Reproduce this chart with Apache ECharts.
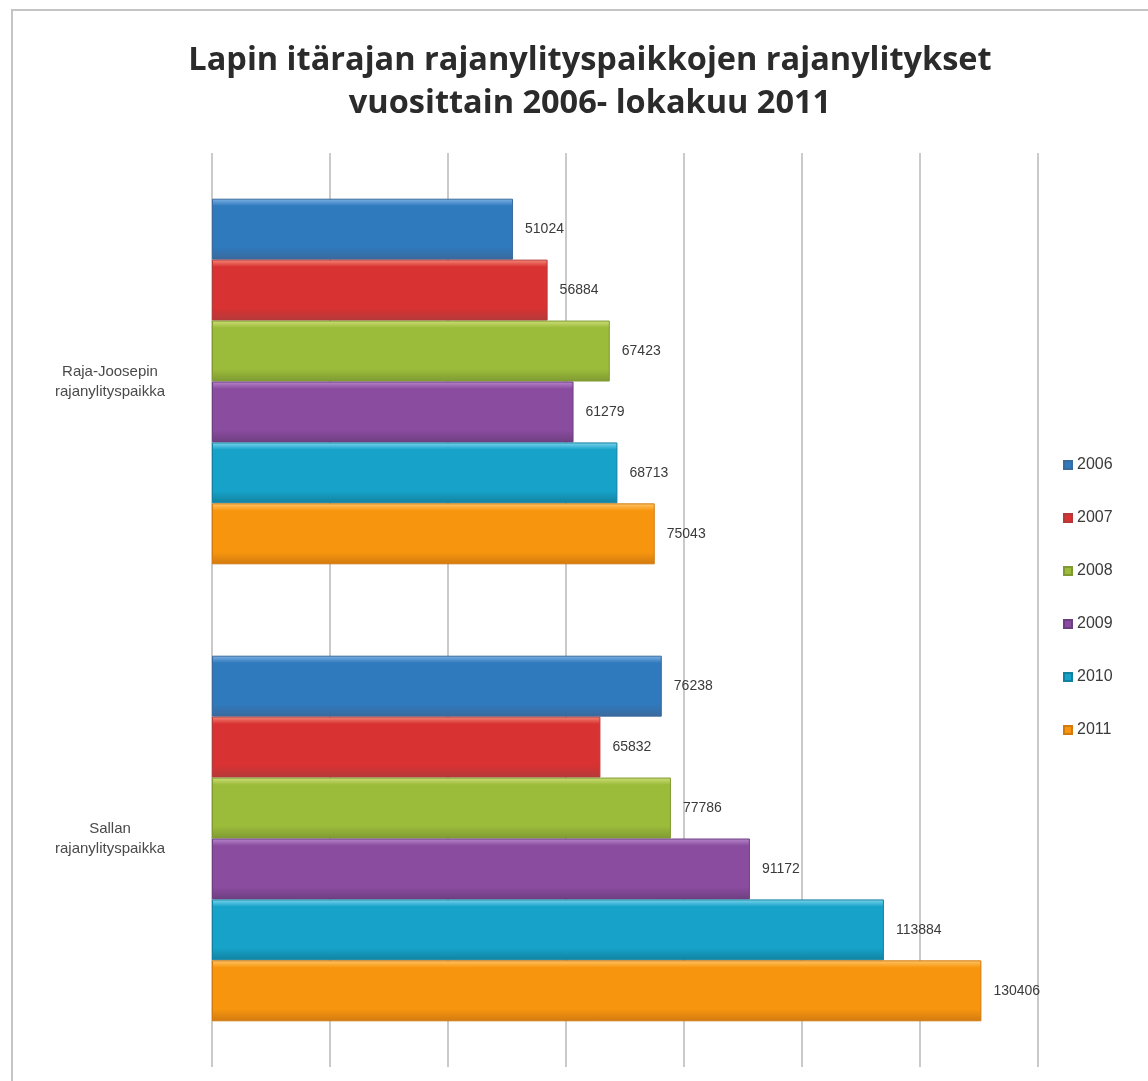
<!DOCTYPE html>
<html>
<head>
<meta charset="utf-8">
<script src="https://cdn.jsdelivr.net/npm/echarts@6/dist/echarts.min.js"></script>
<style>
  html, body { margin: 0; padding: 0; background: #fff; }
  #chart { width: 1148px; height: 1081px; }
</style>
</head>
<body>
<div id="chart"></div>
<script>
const places = ['Raja-Joosepin\nrajanylityspaikka', 'Sallan\nrajanylityspaikka'];
const years = ['2006', '2007', '2008', '2009', '2010', '2011'];
const v2006 = [51024, 76238];
const v2007 = [56884, 65832];
const v2008 = [67423, 77786];
const v2009 = [61279, 91172];
const v2010 = [68713, 113884];
const v2011 = [75043, 130406];
const values = [v2006, v2007, v2008, v2009, v2010, v2011];

// light top, body, dark bottom for the glossy bar look
const shades = [
  ['#7fb3e6', '#2f79bd', '#3b6a9c'],
  ['#f58a78', '#d83232', '#b43a3a'],
  ['#cfe07a', '#9bbb3a', '#7f9a33'],
  ['#b889cc', '#8a4c9f', '#6e3f80'],
  ['#7fd6ee', '#16a2c9', '#12819f'],
  ['#ffc66a', '#f7960e', '#d27a10']
];

const chart = echarts.init(document.getElementById('chart'));

const series = years.map((y, i) => ({
  name: y,
  type: 'bar',
  data: values[i],
  barGap: '0%',
  barCategoryGap: '20%',
  itemStyle: {
    color: new echarts.graphic.LinearGradient(0, 0, 0, 1, [
      { offset: 0, color: shades[i][0] },
      { offset: 0.12, color: shades[i][1] },
      { offset: 0.8, color: shades[i][1] },
      { offset: 1, color: shades[i][2] }
    ]),
    borderColor: shades[i][2],
    borderWidth: 1
  },
  label: {
    show: true,
    position: 'right',
    distance: 12,
    fontFamily: 'Liberation Sans',
    fontSize: 14,
    color: '#3a3a3a'
  }
}));

chart.setOption({
  animation: false,
  backgroundColor: '#fff',
  color: shades.map(s => s[1]),
  title: {
    text: 'Lapin itärajan rajanylityspaikkojen rajanylitykset\nvuosittain 2006- lokakuu 2011',
    left: 585,
    top: 34,
    textAlign: 'center',
    textStyle: {
      fontFamily: 'Open Sans',
      fontWeight: 'bold',
      fontSize: 32.5,
      lineHeight: 43,
      color: '#2b2b2b'
    }
  },
  legend: {
    orient: 'vertical',
    left: 1058,
    top: 452,
    itemWidth: 8,
    itemHeight: 8,
    itemGap: 37,
    icon: 'rect',
    textStyle: { fontFamily: 'Liberation Sans', fontSize: 16, color: '#3a3a3a' },
    data: years
  },
  grid: { left: 212, right: 110, top: 153, bottom: 14, containLabel: false },
  xAxis: {
    type: 'value',
    min: 0,
    max: 140000,
    interval: 20000,
    axisLabel: { show: false },
    axisTick: { show: false },
    axisLine: { show: false },
    splitLine: { lineStyle: { color: '#b8b8b8', width: 1.5 } }
  },
  yAxis: {
    type: 'category',
    inverse: true,
    data: places,
    axisLine: { show: false },
    axisTick: { show: false },
    axisLabel: {
      align: 'center',
      margin: 102,
      fontFamily: 'Liberation Sans',
      fontSize: 15,
      lineHeight: 20,
      color: '#4a4a4a'
    }
  },
  graphic: [{
    type: 'rect',
    shape: { x: 12, y: 10, width: 1200, height: 1200 },
    style: { fill: 'none', stroke: '#c4c4c4', lineWidth: 2 },
    silent: true
  }],
  series: series
});
</script>
</body>
</html>
